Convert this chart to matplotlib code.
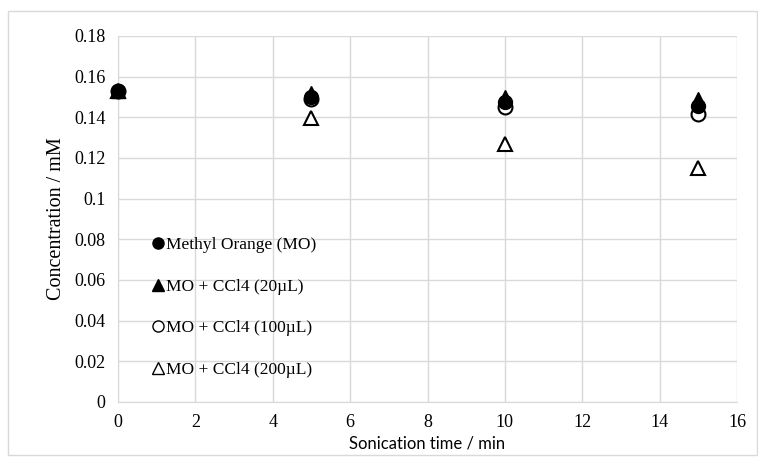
import matplotlib.pyplot as plt
from matplotlib.patches import Rectangle
from matplotlib.lines import Line2D

# sonication time (min)
tiempo = [0, 5, 10, 15]

# concentration (mM) per series
mo = [0.153, 0.150, 0.1475, 0.1455]
mo_20 = [0.153, 0.152, 0.150, 0.149]
mo_100 = [0.153, 0.149, 0.145, 0.1415]
mo_200 = [0.153, 0.1395, 0.127, 0.115]

etiquetas = ['Methyl Orange (MO)', 'MO + CCl4 (20µL)',
             'MO + CCl4 (100µL)', 'MO + CCl4 (200µL)']

serif = ['Liberation Serif', 'DejaVu Serif']

fig = plt.figure(figsize=(7.58, 4.61), dpi=100)
ax = fig.add_axes([0.1557, 0.128, 0.8166, 0.794])

ms = 10
ax.plot(tiempo, mo_200, '^', ms=ms, mfc='white', mec='black', mew=1.5, zorder=3, clip_on=False)
ax.plot(tiempo, mo_100, 'o', ms=ms, mfc='white', mec='black', mew=1.5, zorder=4, clip_on=False)
ax.plot(tiempo, mo_20, '^', ms=ms, mfc='black', mec='black', zorder=5, clip_on=False)
ax.plot(tiempo, mo, 'o', ms=ms, mfc='black', mec='black', zorder=6, clip_on=False)

ax.set_xlim(0, 16)
ax.set_ylim(0, 0.18)
ax.set_xticks(range(0, 17, 2))
ax.set_yticks([i * 0.02 for i in range(10)])
ax.set_yticklabels(['0', '0.02', '0.04', '0.06', '0.08', '0.1',
                    '0.12', '0.14', '0.16', '0.18'])
ax.grid(True, color='#d9d9d9', linewidth=1)
ax.set_axisbelow(True)
for lado in ['top', 'right']:
    ax.spines[lado].set_visible(False)
for lado in ['left', 'bottom']:
    ax.spines[lado].set_color('#d9d9d9')
ax.tick_params(length=0, pad=9, labelsize=13)
for t in ax.get_xticklabels() + ax.get_yticklabels():
    t.set_family(serif)

ax.set_xlabel('Sonication time / min', family=['Lato', 'DejaVu Sans'], fontsize=12, labelpad=3)
ax.set_ylabel('Concentration / mM', family=serif, fontsize=14.5, labelpad=6)

handles = [
    Line2D([], [], ls='', marker='o', ms=8, mfc='black', mec='black'),
    Line2D([], [], ls='', marker='^', ms=8, mfc='black', mec='black'),
    Line2D([], [], ls='', marker='o', ms=8, mfc='white', mec='black'),
    Line2D([], [], ls='', marker='^', ms=8, mfc='white', mec='black'),
]
ax.legend(handles, etiquetas, loc='upper left', bbox_to_anchor=(0.045, 0.47),
          frameon=False, prop={'family': serif, 'size': 12.5},
          handlelength=0.6, handletextpad=0.15, labelspacing=1.47,
          borderaxespad=0)

fig.patches.append(Rectangle((8 / 758, 6 / 461), 749 / 758, 444 / 461,
                             transform=fig.transFigure, fill=False,
                             edgecolor='#d9d9d9', linewidth=1))

fig.savefig('out.png', dpi=100)
